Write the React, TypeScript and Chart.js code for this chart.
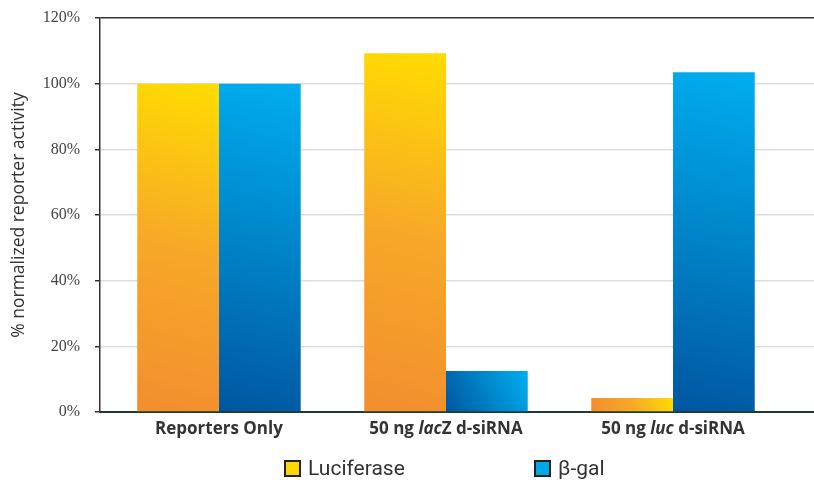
import React, { useEffect, useRef } from "react";
import { Chart, registerables } from "chart.js";

Chart.register(...registerables);

const categories = ["Reporters Only", "50 ng lacZ d-siRNA", "50 ng luc d-siRNA"];
// label segments: [text, italic]
const categoryParts: [string, boolean][][] = [
  [["Reporters Only", false]],
  [["50 ng ", false], ["lac", true], ["Z d-siRNA", false]],
  [["50 ng ", false], ["luc", true], [" d-siRNA", false]],
];
const luciferase = [100, 109.3, 4.3];
const betaGal = [100, 12.5, 103.5];
const seriesNames = ["Luciferase", "β-gal"];
const yTicks = [0, 20, 40, 60, 80, 100, 120];

const gradStops: [number, string][][] = [
  [[0, "#F28E2E"], [0.5, "#F7A828"], [1, "#FFDC00"]],
  [[0, "#0056A0"], [0.5, "#0083C8"], [1, "#00AEEF"]],
];

const CAT_PCT = 0.72;

function makeBg(dsIndex: number) {
  return (ctx: any) => {
    const chart = ctx.chart;
    const xs = chart.scales?.x;
    const ys = chart.scales?.y;
    if (!chart.chartArea || !xs || !ys || ctx.parsed == null) return gradStops[dsIndex][2][1];
    const i = ctx.dataIndex;
    const unit = xs.getPixelForValue(1) - xs.getPixelForValue(0);
    const w = (unit * CAT_PCT) / 2;
    const c = xs.getPixelForValue(i);
    const x0 = dsIndex === 0 ? c - w : c;
    const x1 = x0 + w;
    const yb = ys.getPixelForValue(0);
    const yt = ys.getPixelForValue(ctx.parsed.y);
    const g = chart.ctx.createLinearGradient(x0, yb, x1, yt);
    gradStops[dsIndex].forEach(([o, col]) => g.addColorStop(o, col));
    return g;
  };
}

const labelPlugin = {
  id: "catLabels",
  afterDraw(chart: any) {
    const { ctx } = chart;
    const xs = chart.scales.x;
    const y = chart.chartArea.bottom + 17;
    ctx.save();
    ctx.fillStyle = "#333333";
    ctx.textBaseline = "middle";
    categoryParts.forEach((parts, i) => {
      const fonts = parts.map(([, it]) => `${it ? "italic " : ""}700 17px "Open Sans"`);
      let total = 0;
      const widths = parts.map(([t], k) => {
        ctx.font = fonts[k];
        const m = ctx.measureText(t).width;
        total += m;
        return m;
      });
      let x = xs.getPixelForValue(i) - total / 2;
      parts.forEach(([t], k) => {
        ctx.font = fonts[k];
        ctx.textAlign = "left";
        ctx.fillText(t, x, y);
        x += widths[k];
      });
    });
    ctx.restore();
  },
};

export default function App() {
  const ref = useRef<HTMLCanvasElement>(null);
  useEffect(() => {
    document.body.style.margin = "0";
    const chart = new Chart(ref.current!, {
      type: "bar",
      data: {
        datasets: [
          {
            label: seriesNames[0],
            data: luciferase.map((v, i) => ({ x: i, y: v })),
            backgroundColor: makeBg(0),
            borderWidth: 0,
            categoryPercentage: CAT_PCT,
            barPercentage: 1,
          },
          {
            label: seriesNames[1],
            data: betaGal.map((v, i) => ({ x: i, y: v })),
            backgroundColor: makeBg(1),
            borderWidth: 0,
            categoryPercentage: CAT_PCT,
            barPercentage: 1,
          },
        ],
      },
      options: {
        animation: false,
        responsive: false,
        layout: { padding: { top: 18, right: 0, left: 0, bottom: 0 } },
        plugins: { legend: { display: false }, tooltip: { enabled: false } },
        scales: {
          x: {
            type: "linear",
            min: -0.524,
            max: 2.621,
            offset: false,
            afterBuildTicks: (s: any) => {
              s.ticks = categories.map((_, i) => ({ value: i }));
            },
            ticks: { display: false },
            grid: { display: false, drawTicks: false, offset: false },
            border: { display: true, color: "#1f3b2b", width: 2 },
            afterFit: (s: any) => {
              s.height = 68;
              s.paddingLeft = 0;
              s.paddingRight = 0;
            },
          },
          y: {
            min: 0,
            max: 120,
            afterBuildTicks: (s: any) => {
              s.ticks = yTicks.map((v) => ({ value: v }));
            },
            ticks: {
              callback: (v: any) => `${v}%`,
              color: "#444444",
              font: { family: '"Liberation Serif"', size: 16 },
              padding: 15,
            },
            grid: {
              color: (c: any) => (c.tick && (c.tick.value === 120 || c.tick.value === 0) ? "#333333" : "#dcdde0"),
              lineWidth: 1.5,
              tickColor: "#333333",
              tickLength: 5,
              drawOnChartArea: true,
            },
            border: { display: true, color: "#333333", width: 1.5 },
            title: {
              display: true,
              text: "% normalized reporter activity",
              color: "#333333",
              font: { family: '"Open Sans"', size: 17.5 },
              padding: { top: 9, bottom: 0 },
            },
            afterFit: (s: any) => {
              s.width = 100;
              s.paddingTop = 0;
              s.paddingBottom = 0;
            },
          },
        },
      },
      plugins: [labelPlugin],
    });
    return () => chart.destroy();
  }, []);

  const legendItem = (left: number, color: string, text: string) => (
    <div
      style={{
        position: "absolute",
        left,
        top: 459,
        display: "flex",
        alignItems: "center",
        fontFamily: "Roboto",
        fontSize: 21,
        color: "#333333",
        lineHeight: "18px",
      }}
    >
      <span
        style={{
          display: "inline-block",
          width: 13,
          height: 13,
          background: color,
          border: "2px solid #222222",
          marginRight: 7,
        }}
      />
      <span>{text}</span>
    </div>
  );

  return (
    <div style={{ position: "relative", width: 814, height: 480 }}>
      <canvas ref={ref} width={814} height={480} style={{ display: "block" }} />
      {legendItem(284, "#FFD700", seriesNames[0])}
      {legendItem(534, "#00A8E6", seriesNames[1])}
    </div>
  );
}
